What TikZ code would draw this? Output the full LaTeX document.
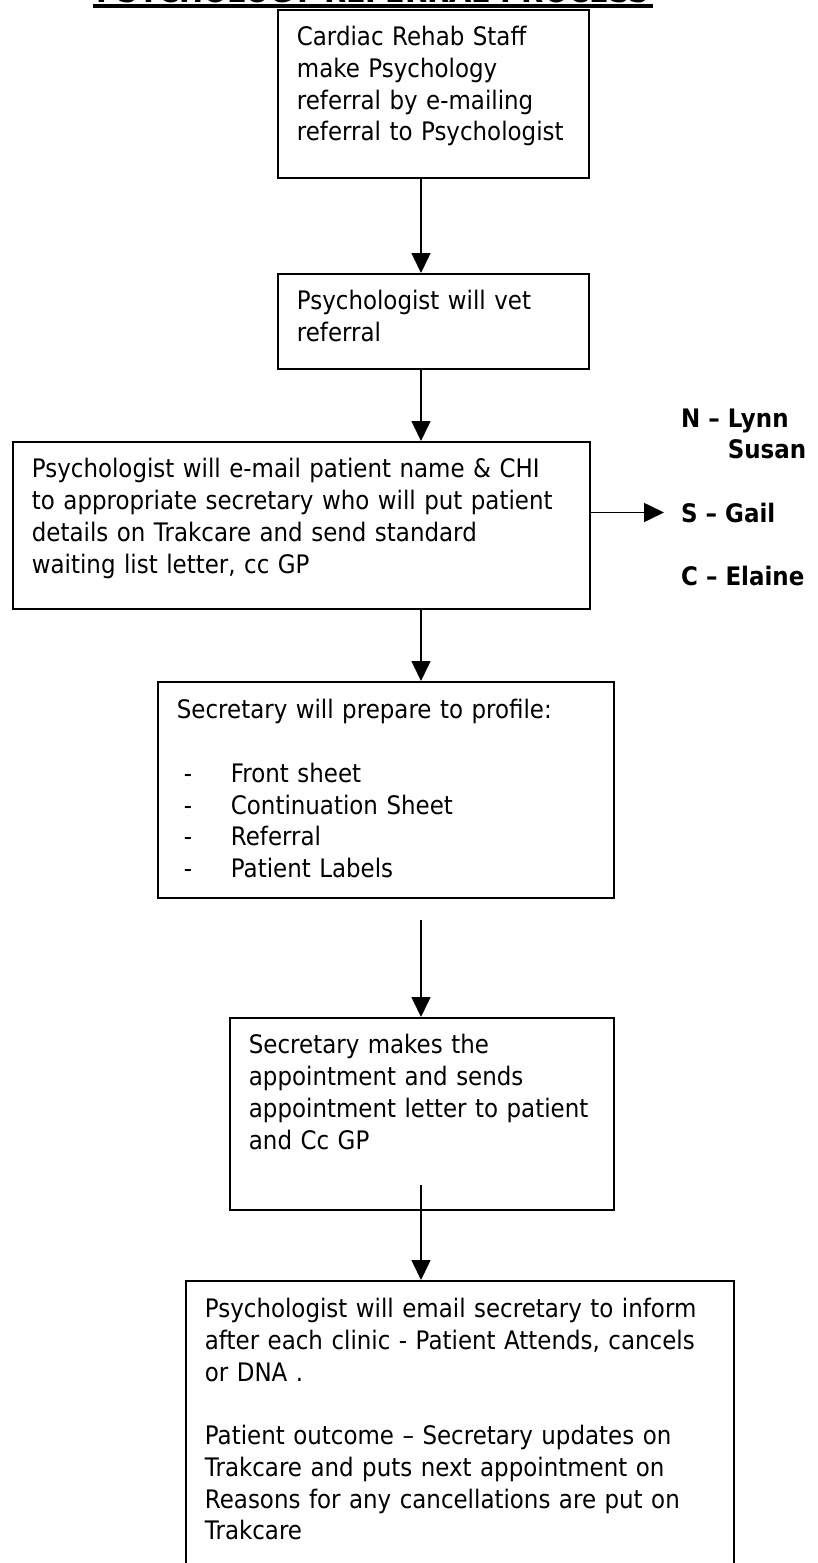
\documentclass[tikz,border=0pt]{standalone}
\usepackage{fontspec}
\setmainfont{DejaVu Sans}[FakeStretch=0.9]
\usetikzlibrary{arrows.meta,positioning}

\newcommand{\bodysize}{\fontsize{25.5}{31.7}\selectfont}
\newcommand{\itemdash}{\makebox[54pt][l]{\hspace*{7pt}-}}

\begin{document}
\begin{tikzpicture}[x=1pt,y=-1pt,
  flow/.style={-{Triangle[width=19pt,length=20pt]},line width=1.6pt}]
  \tikzstyle{stagebox}=[draw,line width=1.8pt,anchor=north west,align=left,
    inner xsep=19pt,inner ysep=0pt,text height=36pt,font=\bodysize]
  \tikzstyle{who}=[anchor=base west,inner sep=0pt,font=\bodysize\bfseries]

  \clip (0,0) rectangle (818,1563);

  % heading, only its foot shows
  \node[anchor=base,inner sep=0pt,text width=560pt,align=center,
    font=\fontsize{32}{36}\selectfont\bfseries] (title) at (373,2.5)
    {PSYCHOLOGY REFERRAL PROCESS};
  \draw[line width=2.2pt] ([yshift=-2.3pt]title.base west) -- ([yshift=-2.3pt]title.base east);
  \draw[line width=1.2pt] ([yshift=-4.5pt]title.base west) -- ([yshift=-4.5pt]title.base east);

  \coordinate (spine) at (421,0);

  \node[stagebox,text width=273pt,text depth=132pt] (refer) at (277,9)
    {Cardiac Rehab Staff\\make Psychology\\referral by e-mailing\\referral to Psychologist};
  \node[stagebox,text width=273pt,text depth=59pt] (vet) at (277,273)
    {Psychologist will vet\\referral};
  \node[stagebox,text width=539pt,text depth=131pt] (notify) at (12,441)
    {Psychologist will e-mail patient name \& CHI\\to appropriate secretary who will put patient\\details on Trakcare and send standard\\waiting list letter, cc GP};
  \node[stagebox,text width=418pt,text height=37pt,text depth=179pt] (prep) at (157,681)
    {Secretary will prepare to profile:\\[31.7pt]
     \itemdash Front sheet\\\itemdash Continuation Sheet\\\itemdash Referral\\\itemdash Patient Labels};
  \node[stagebox,text width=346pt,text depth=156pt] (appt) at (229,1017)
    {Secretary makes the\\appointment and sends\\appointment letter to patient\\and Cc GP};
  \node[stagebox,text width=510pt,text height=37pt,text depth=300pt] (clinic) at (185,1280)
    {Psychologist will email secretary to inform\\after each clinic - Patient Attends, cancels\\or DNA .\\[31.7pt]
     Patient outcome – Secretary updates on\\Trakcare and puts next appointment on\\Reasons for any cancellations are put on\\Trakcare};

  % secretaries by area
  \node[who] (lynn) at (681,427) {N – Lynn};
  \node[who] (susan) at (681,458) {\phantom{N – }Susan};
  \node[who] (gail) at (681,522) {S – Gail};
  \node[who] (elaine) at (681,585) {C – Elaine};

  \coordinate (tail4) at (421,920);
  \coordinate (tail5) at (421,1185);

  \draw[flow] (refer.south -| spine) -- (vet.north -| spine);
  \draw[flow] (vet.south -| spine) -- (notify.north -| spine);
  \draw[flow] (notify.south -| spine) -- (prep.north -| spine);
  \draw[flow] (tail4) -- (appt.north -| spine);
  \draw[flow] (tail5) -- (clinic.north -| spine);
  \draw[flow] (notify.east |- gail.west) -- ([xshift=-17pt]gail.west);
\end{tikzpicture}
\end{document}
